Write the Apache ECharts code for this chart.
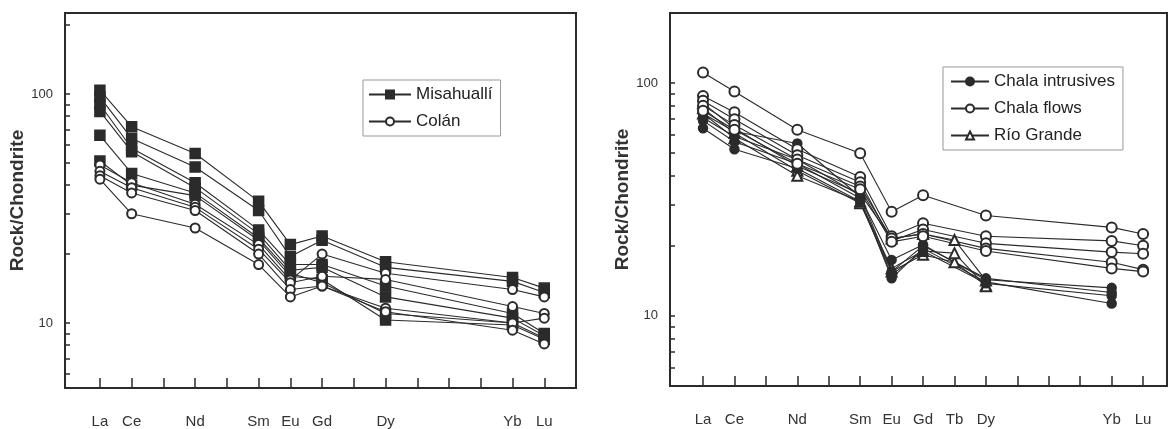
<!DOCTYPE html>
<html>
<head>
<meta charset="utf-8">
<script src="https://cdn.jsdelivr.net/npm/echarts@6/dist/echarts.min.js"></script>
<style>
html, body { margin: 0; padding: 0; background: #fff; }
#chart { width: 1169px; height: 429px; }
</style>
</head>
<body>
<div id="chart"></div>
<script>
// element labels and their atomic numbers (used as x positions)
var reeLeft = ['La', 'Ce', 'Nd', 'Sm', 'Eu', 'Gd', 'Dy', 'Yb', 'Lu'];
var zLeft = [57, 58, 60, 62, 63, 64, 66, 70, 71];
var reeRight = ['La', 'Ce', 'Nd', 'Sm', 'Eu', 'Gd', 'Tb', 'Dy', 'Yb', 'Lu'];
var zRight = [57, 58, 60, 62, 63, 64, 65, 66, 70, 71];
var tickZ = [57, 58, 59, 60, 61, 62, 63, 64, 65, 66, 67, 68, 69, 70, 71];
var yTicks = [6, 7, 8, 9, 10, 20, 30, 40, 50, 60, 70, 80, 90, 100, 200];
var yLabels = [10, 100];

// left panel, values at La Ce Nd Sm Eu Gd Dy Yb Lu
var misahualli = [
    [104, 72, 55, 34, 22, 24, 18.5, 15.8, 14.2],
    [97, 64, 48, 31, 19.5, 23, 17.5, 15.2, 13.6],
    [90, 58, 41, 25.5, 18, 18, 14.5, 11, 9.0],
    [84, 56, 39, 24.5, 17, 17.5, 13, 10.5, 8.8],
    [66, 45, 37, 23.5, 16.5, 15, 11, 10, 8.6],
    [51, 40, 36, 23, 16, 15.5, 10.3, 9.8, 8.5]
];
var colan = [
    [49, 41, 33, 22, 15.4, 20, 16.5, 14, 13],
    [46, 39, 32, 21, 15, 16, 15.5, 11.8, 11],
    [44, 37, 31, 20, 14, 14.5, 11.6, 10, 10.5],
    [42.5, 30, 26, 18, 13, 14.5, 11.2, 9.3, 8.1]
];

// right panel, values at La Ce Nd Sm Eu Gd Tb Dy Yb Lu (null = not plotted)
var chalaIntrusives = [
    [74, 62, 55, 32.5, 17.4, 20.2, null, 14.3, 13.2, null],
    [64, 52, 43, 31, 15, 19, null, 13.8, 12.2, null],
    [69, 56, 45, 32, 14.5, 19.5, null, 14, 11.3, null],
    [71, 59, 47, 33, 15.5, 20, null, 14.5, 12.6, null]
];
var chalaFlows = [
    [111, 92, 63, 50, 28, 33, null, 27, 24, 22.5],
    [88, 75, 52, 39.5, 22, 25, null, 22, 21, 20],
    [84, 70, 49, 37.5, 21, 23.5, null, 20.5, 18.8, 18.5],
    [80, 66, 47, 36, 21.5, 22.5, null, 19.5, 17, 15.8],
    [76, 63, 45, 35, 20.8, 22, null, 19, 16, 15.5]
];
var rioGrande = [
    [78, 61, 42, 30.5, 15.5, 18.3, 17, 13.5, null, null],
    [74, 58, 40, 31, 16, 19, 18.6, 13.4, null, null],
    [82, 64, 44, 33.5, 21.5, 22.5, 21.2, 14.2, null, null]
];

var ink = '#2b2b2b';

function makeSeries(name, rows, z, idx, symbol, size) {
    return rows.map(function (row) {
        var pts = [];
        row.forEach(function (v, i) {
            if (v != null) pts.push([z[i], v]);
        });
        return {
            name: name,
            type: 'line',
            xAxisIndex: idx,
            yAxisIndex: idx,
            data: pts,
            symbol: symbol,
            symbolSize: size,
            showAllSymbol: true,
            color: ink,
            lineStyle: { color: ink, width: 1.1 },
            itemStyle: { color: ink, borderColor: ink, borderWidth: 1.5 },
            emphasis: { disabled: true },
            animation: false
        };
    });
}

function xAxis(idx, names, zs, min, max) {
    return {
        type: 'value',
        gridIndex: idx,
        min: min,
        max: max,
        axisLine: { lineStyle: { color: ink, width: 2 } },
        axisTick: { inside: true, length: 10, customValues: tickZ, lineStyle: { color: ink, width: 1.5 } },
        axisLabel: {
            customValues: zs,
            margin: 26,
            fontSize: 15,
            color: '#333',
            fontFamily: 'Liberation Sans, Arial, sans-serif',
            formatter: function (v) { return names[zs.indexOf(v)]; }
        },
        splitLine: { show: false }
    };
}

function yAxis(idx, min, max) {
    return {
        type: 'log',
        logBase: 10,
        gridIndex: idx,
        min: min,
        max: max,
        name: 'Rock/Chondrite',
        nameLocation: 'middle',
        nameGap: 38,
        nameTextStyle: { fontSize: 19, fontWeight: 'bold', color: '#333', fontFamily: 'Liberation Sans, Arial, sans-serif' },
        axisLine: { show: true, lineStyle: { color: ink, width: 2 } },
        axisTick: { inside: true, length: 5, customValues: yTicks, lineStyle: { color: ink, width: 1.5 } },
        axisLabel: { customValues: yLabels, margin: 12, fontSize: 13, color: '#333', fontFamily: 'Liberation Sans, Arial, sans-serif' },
        splitLine: { show: false }
    };
}

function legend(left, top, names, itemWidth, padL) {
    return {
        orient: 'vertical',
        left: left,
        top: top,
        data: names,
        padding: [6, 8, 6, padL],
        borderColor: '#999',
        borderWidth: 1,
        itemWidth: itemWidth,
        itemHeight: 10,
        itemGap: 10,
        selectedMode: false,
        textStyle: { fontSize: 17, color: '#222', fontFamily: 'Liberation Sans, Arial, sans-serif' }
    };
}

var chart = echarts.init(document.getElementById('chart'));

var option = {
    backgroundColor: '#fff',
    animation: false,
    grid: [
        { left: 65, top: 13, width: 511, height: 375, show: true, borderColor: ink, borderWidth: 2 },
        { left: 670, top: 13, width: 497, height: 373, show: true, borderColor: ink, borderWidth: 2 }
    ],
    xAxis: [xAxis(0, reeLeft, zLeft, 55.9, 72), xAxis(1, reeRight, zRight, 55.95, 71.76)],
    yAxis: [yAxis(0, 5.2, 226), yAxis(1, 5, 200)],
    legend: [
        legend(363, 80, ['Misahuallí', 'Colán'], 42, 5),
        legend(943, 67, ['Chala intrusives', 'Chala flows', 'Río Grande'], 38, 7)
    ],
    series: [].concat(
        makeSeries('Misahuallí', misahualli, zLeft, 0, 'rect', 10),
        makeSeries('Colán', colan, zLeft, 0, 'emptyCircle', 9),
        makeSeries('Río Grande', rioGrande, zRight, 1, 'emptyTriangle', 10),
        makeSeries('Chala intrusives', chalaIntrusives, zRight, 1, 'circle', 9),
        makeSeries('Chala flows', chalaFlows, zRight, 1, 'emptyCircle', 10)
    )
};

chart.setOption(option);
</script>
</body>
</html>
